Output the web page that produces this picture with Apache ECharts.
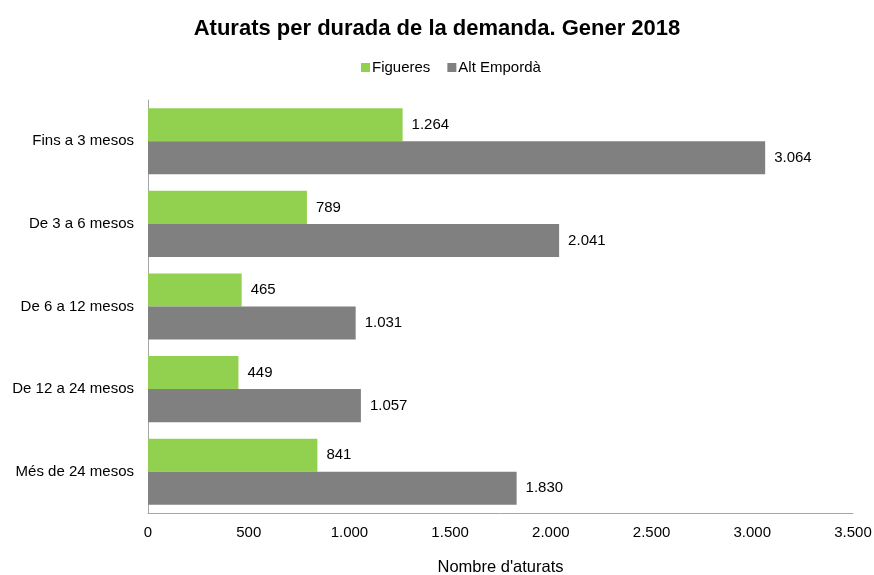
<!DOCTYPE html>
<html>
<head>
<meta charset="utf-8">
<script src="https://cdn.jsdelivr.net/npm/echarts@6/dist/echarts.min.js"></script>
<style>
  html, body { margin: 0; padding: 0; background: #fff; }
  #chart { width: 874px; height: 575px; }
</style>
</head>
<body>
<div id="chart"></div>
<script>
const categories = ['Fins a 3 mesos', 'De 3 a 6 mesos', 'De 6 a 12 mesos', 'De 12 a 24 mesos', 'Més de 24 mesos'];
const figueres = [1264, 789, 465, 449, 841];
const altEmporda = [3064, 2041, 1031, 1057, 1830];

const fmt = v => String(v).replace(/\B(?=(\d{3})+(?!\d))/g, '.');

const chart = echarts.init(document.getElementById('chart'), null, { renderer: 'canvas' });

const labelStyle = {
  show: true,
  position: 'right',
  distance: 9,
  color: '#000',
  fontSize: 15,
  fontFamily: 'Liberation Sans',
  formatter: p => fmt(p.value)
};

chart.setOption({
  backgroundColor: '#fff',
  textStyle: { fontFamily: 'Liberation Sans' },
  title: {
    text: 'Aturats per durada de la demanda. Gener 2018',
    left: 'center',
    top: 13,
    textStyle: { fontSize: 22, fontWeight: 'bold', color: '#000', fontFamily: 'Liberation Sans' }
  },
  legend: {
    top: 55,
    left: 356,
    itemWidth: 9,
    itemHeight: 9,
    itemGap: 17,
    icon: 'rect',
    textStyle: { fontSize: 15, color: '#000', padding: [0, 0, 0, -3] },
    data: ['Figueres', 'Alt Empordà']
  },
  grid: { left: 148, right: 21, top: 100, bottom: 62, outerBoundsMode: 'none', containLabel: false },
  xAxis: {
    type: 'value',
    min: 0,
    max: 3500,
    interval: 500,
    name: "Nombre d'aturats",
    nameLocation: 'middle',
    nameGap: 46,
    nameTextStyle: { fontSize: 16.5, color: '#000' },
    axisLine: { show: true, lineStyle: { color: '#a6a6a6' } },
    axisTick: { show: false },
    splitLine: { show: false },
    axisLabel: { color: '#000', fontSize: 15, margin: 12, formatter: fmt }
  },
  yAxis: {
    type: 'category',
    data: categories,
    inverse: true,
    axisLine: { show: true, lineStyle: { color: '#a6a6a6' } },
    axisTick: { show: false },
    axisLabel: { color: '#000', fontSize: 15, margin: 14 }
  },
  series: [
    {
      name: 'Figueres',
      type: 'bar',
      data: figueres,
      barGap: '0%',
      barCategoryGap: '20%',
      itemStyle: { color: '#92d050' },
      label: labelStyle
    },
    {
      name: 'Alt Empordà',
      type: 'bar',
      data: altEmporda,
      barGap: '0%',
      barCategoryGap: '20%',
      itemStyle: { color: '#808080' },
      label: labelStyle
    }
  ]
});

window.addEventListener('resize', () => chart.resize());
</script>
</body>
</html>
